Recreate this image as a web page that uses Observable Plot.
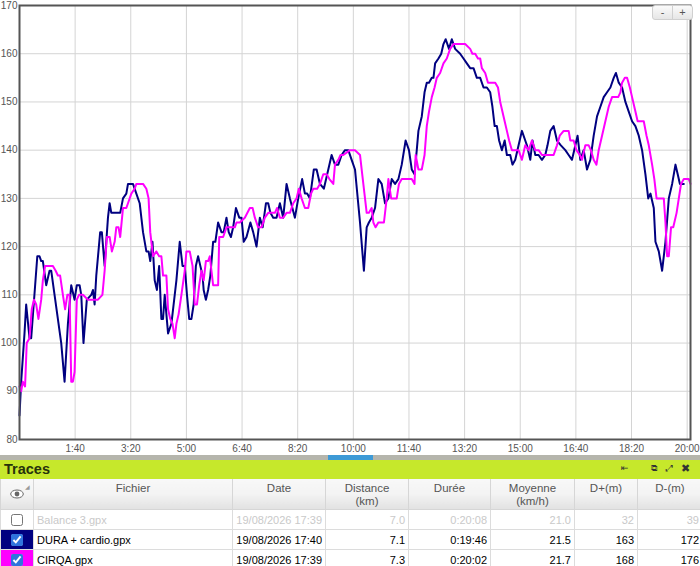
<!DOCTYPE html>
<html>
<head>
<meta charset="utf-8">
<script src="https://cdn.jsdelivr.net/npm/d3@7"></script>
<script src="https://cdn.jsdelivr.net/npm/@observablehq/plot@0.6"></script>
<style>
  html, body { margin: 0; padding: 0; background: #fff; }
  body { width: 700px; height: 566px; overflow: hidden; font-family: "Liberation Sans", Arial, sans-serif; }
  #wrap { position: relative; width: 700px; height: 455px; }
  #zoombtn { position: absolute; left: 652px; top: 5px; width: 41px; height: 15px; border: 1px solid #d0d0d0; border-radius: 3px;
    background: linear-gradient(#fafafa, #e6e6e6); font-size: 11px; color: #555; display: flex; box-sizing: border-box; }
  #zoombtn span { flex: 1; text-align: center; line-height: 13px; }
  #zoombtn span:first-child { border-right: 1px solid #d0d0d0; }
  #scroll { position: relative; width: 700px; height: 5px; background: #b5b5ac; }
  #scroll div { position: absolute; left: 328px; width: 45px; top: 0; height: 5px; background: #3d9ad6; }
  #bar { width: 700px; height: 19px; background: #c6e82b; position: relative; }
  #bar .t { position: absolute; left: 4px; top: 1px; font-weight: bold; font-size: 14.5px; color: #26330b; }
  #bar .ic { position: absolute; top: 3px; font-family: "DejaVu Sans"; font-size: 9px; color: #333; }
  table { border-collapse: collapse; table-layout: fixed; width: 702px; font-size: 11px; }
  th { height: 27px; padding: 3px 0 0 0; vertical-align: top; font-weight: normal; color: #555; line-height: 13px; font-size: 11.5px;
       background: linear-gradient(#f8f8f8, #f3f3f3 50%, #e2e2e2); border: 1px solid #d6d6d6; border-top: none; }
  td { border: 1px solid #dcdcdc; padding: 0 3px 0 2px; text-align: right; height: 19px; white-space: nowrap; overflow: hidden; }
  td.name { text-align: left; padding-left: 3px; }
  td.cb { text-align: center; padding: 0; }
  tr.off td { color: #c9c9c9; }
  input[type=checkbox] { width: 12px; height: 12px; margin: 3px 0 0 0; accent-color: #2f74dd; }
</style>
</head>
<body>
<div id="wrap"><div id="zoombtn"><span>-</span><span>+</span></div></div>
<div id="scroll"><div></div></div>
<div id="bar"><span class="t">Traces</span>
  <span class="ic" style="left:621px">⇤</span>
  <span class="ic" style="left:651px">⧉</span>
  <span class="ic" style="left:666px">⤢</span>
  <span class="ic" style="left:681px;font-size:11px;top:2px">✖</span>
</div>
<div id="tbl"></div>
<script>
// ---- chart data (time in seconds, heart rate in bpm) ----
const duraPoints = [[0,85],[3,92],[9,102],[12,108],[18,101],[21,101],[32,118],[36,118],[39,117],[42,117],[48,112],[54,115],[57,115],[63,110],[75,100],[81,92],[87,104],[93,112],[99,109],[103,112],[108,112],[111,110],[115,100],[121,109],[129,110],[132,111],[135,108],[138,114],[145,123],[148,123],[153,116],[159,126],[162,129],[165,127],[171,127],[175,127],[181,127],[186,130],[192,131],[195,133],[204,133],[210,131],[216,129],[222,123],[228,119],[232,119],[235,117],[239,121],[243,113],[247,111],[251,116],[255,105],[258,105],[261,110],[267,102],[273,104],[282,113],[288,121],[293,116],[297,116],[301,110],[305,105],[309,105],[313,108],[317,116],[321,118],[325,116],[329,114],[331,111],[335,109],[339,111],[343,114],[348,121],[352,121],[357,125],[363,123],[367,123],[372,126],[376,123],[380,122],[384,124],[389,128],[395,126],[399,126],[403,121],[408,122],[415,125],[420,123],[426,120],[432,126],[437,124],[443,129],[447,129],[451,127],[456,126],[462,126],[468,129],[474,126],[480,133],[486,130],[495,126],[501,130],[508,134],[513,131],[517,131],[522,130],[529,136],[534,136],[540,133],[547,132],[555,136],[561,139],[567,137],[573,137],[579,139],[585,140],[591,140],[597,138],[603,136],[612,125],[619,115],[624,124],[628,125],[633,126],[639,128],[645,134],[651,133],[657,129],[663,130],[669,134],[675,133],[681,134],[687,137],[694,142],[700,140],[705,136],[710,135],[714,140],[717,144],[723,147],[728,152],[732,154],[736,154],[741,155],[744,155],[747,158],[753,159],[758,160],[762,162],[766,163],[772,161],[777,163],[783,161],[792,160],[798,159],[804,158],[810,157],[816,157],[822,155],[828,155],[834,153],[840,153],[846,152],[850,149],[854,145],[858,145],[862,142],[867,140],[872,142],[876,139],[882,139],[886,137],[891,138],[897,141],[903,144],[909,142],[912,141],[918,138],[922,142],[927,139],[933,139],[939,138],[945,139],[949,141],[954,144],[960,145],[966,142],[973,141],[981,140],[987,139],[993,138],[997,140],[1003,143],[1008,138],[1014,140],[1020,136],[1026,138],[1032,143],[1038,147],[1044,149],[1050,151],[1056,152],[1062,153],[1068,155],[1072,156],[1077,154],[1083,153],[1089,150],[1095,148],[1101,146],[1107,145],[1113,143],[1119,140],[1125,135],[1130,130],[1134,131],[1140,128],[1143,121],[1149,119],[1155,115],[1161,121],[1167,130],[1173,133],[1179,137],[1183,135],[1187,133],[1194,133]];

const cirqaPoints = [[0,91],[3,90],[6,92],[10,91],[13,100],[18,101],[22,107],[26,109],[30,108],[34,105],[39,109],[42,113],[46,116],[60,116],[65,115],[69,114],[73,114],[78,110],[82,107],[86,110],[90,110],[93,92],[96,92],[99,94],[103,109],[107,110],[114,110],[123,109],[132,109],[141,109],[149,110],[153,115],[157,122],[162,122],[166,119],[171,121],[174,124],[178,124],[181,122],[186,128],[192,128],[195,129],[201,131],[207,132],[210,133],[222,133],[228,132],[232,130],[235,123],[237,121],[240,118],[246,119],[251,118],[255,118],[258,114],[264,114],[267,107],[271,105],[275,104],[279,101],[282,104],[286,106],[291,110],[297,115],[300,119],[306,119],[311,116],[315,108],[319,108],[323,112],[327,115],[331,113],[335,117],[339,117],[342,118],[348,112],[357,112],[359,122],[366,122],[372,124],[387,124],[390,125],[396,125],[405,126],[414,128],[419,128],[423,126],[429,124],[435,124],[441,126],[447,127],[459,127],[463,128],[468,126],[474,126],[480,127],[486,127],[492,129],[498,130],[502,132],[507,130],[513,128],[519,128],[524,131],[528,132],[535,132],[540,133],[546,135],[552,135],[557,134],[564,133],[567,137],[573,138],[577,139],[582,139],[594,140],[603,140],[612,139],[616,135],[620,131],[624,127],[628,127],[633,128],[636,125],[640,124],[645,125],[655,125],[660,130],[663,134],[668,130],[672,130],[678,130],[682,133],[687,134],[693,134],[699,134],[705,134],[710,133],[712,139],[717,136],[723,136],[728,139],[732,145],[736,148],[741,151],[746,153],[750,155],[756,156],[762,158],[768,159],[774,161],[780,162],[801,162],[810,161],[814,160],[819,160],[824,159],[828,159],[831,157],[837,156],[842,154],[855,154],[860,153],[864,150],[870,147],[876,144],[880,142],[885,140],[897,140],[903,138],[909,141],[915,140],[921,142],[927,140],[933,140],[939,139],[960,139],[966,141],[971,143],[978,144],[987,144],[990,142],[996,142],[1001,140],[1007,139],[1011,138],[1017,141],[1023,141],[1027,140],[1032,138],[1037,137],[1041,140],[1047,143],[1053,146],[1059,149],[1065,151],[1076,151],[1080,152],[1083,154],[1088,155],[1092,155],[1097,153],[1101,151],[1107,148],[1111,146],[1122,146],[1127,143],[1131,141],[1137,137],[1141,134],[1145,130],[1158,130],[1161,125],[1164,118],[1167,118],[1171,124],[1175,124],[1181,127],[1185,130],[1189,133],[1194,134],[1203,134],[1206,133]];

const yTicks = [80, 90, 100, 110, 120, 130, 140, 150, 160, 170];
const xTicks = [100, 200, 300, 400, 500, 600, 700, 800, 900, 1000, 1100, 1200];

// ---- table data ----
const files = ["Balance 3.gpx", "DURA + cardio.gpx", "CIRQA.gpx"];
const dates = ["19/08/2026 17:39", "19/08/2026 17:40", "19/08/2026 17:39"];
const distances = ["7.0", "7.1", "7.3"];
const durations = ["0:20:08", "0:19:46", "0:20:02"];
const speeds = ["21.0", "21.5", "21.7"];
const dPlus = ["32", "163", "168"];
const dMinus = ["39", "172", "176"];
const visible = [false, true, true];
const colors = [null, "#000080", "#ff00ff"];

const fmt = t => `${Math.floor(t / 60)}:${String(t % 60).padStart(2, "0")}`;
const toObj = p => ({t: p[0], hr: p[1]});

const chart = Plot.plot({
  width: 700,
  height: 456,
  marginLeft: 19,
  marginRight: 10,
  marginTop: 5,
  marginBottom: 17,
  style: {fontFamily: "'Liberation Sans', Arial, sans-serif", fontSize: "10px", color: "#555", background: "#fff"},
  x: {domain: [0, 1206], ticks: xTicks, tickFormat: fmt, tickSize: 0, tickPadding: 5, label: null},
  y: {domain: [80, 170], ticks: yTicks, tickSize: 0, tickPadding: 2, label: null},
  marks: [
    Plot.gridX(xTicks, {stroke: "#d4d4d4", strokeOpacity: 1}),
    Plot.gridY(yTicks, {stroke: "#d4d4d4", strokeOpacity: 1}),
    Plot.line(duraPoints.map(toObj), {x: "t", y: "hr", stroke: colors[1], strokeWidth: 2}),
    Plot.line(cirqaPoints.map(toObj), {x: "t", y: "hr", stroke: colors[2], strokeWidth: 2}),
    Plot.frame({stroke: "#555", strokeWidth: 2})
  ]
});
document.getElementById("wrap").prepend(chart);

// ---- table ----
const eye = `<svg width="14" height="10" viewBox="0 0 14 10" style="margin-top:7px"><ellipse cx="7" cy="5" rx="6.3" ry="4" fill="#fff" stroke="#666" stroke-width="1"/><circle cx="7" cy="5" r="2.4" fill="#666"/></svg>`;
let html = `<table><colgroup><col style="width:33px"><col style="width:199px"><col style="width:93px"><col style="width:83px"><col style="width:82px"><col style="width:84px"><col style="width:63px"><col style="width:65px"></colgroup>`;
html += `<tr><th style="position:relative">${eye}<span style="position:absolute;right:3px;top:2px;font-size:6px;color:#999">◢</span></th><th>Fichier</th><th>Date</th><th>Distance<br>(km)</th><th>Durée</th><th>Moyenne<br>(km/h)</th><th>D+(m)</th><th>D-(m)</th></tr>`;
files.forEach((f, i) => {
  const bg = colors[i] ? `background:${colors[i]}` : "";
  html += `<tr class="${visible[i] ? "" : "off"}"><td class="cb" style="${bg}"><input type="checkbox" ${visible[i] ? "checked" : ""}></td>` +
    `<td class="name">${f}</td><td>${dates[i]}</td><td>${distances[i]}</td><td>${durations[i]}</td><td>${speeds[i]}</td><td>${dPlus[i]}</td><td>${dMinus[i]}</td></tr>`;
});
html += `</table>`;
document.getElementById("tbl").innerHTML = html;
</script>
</body>
</html>
